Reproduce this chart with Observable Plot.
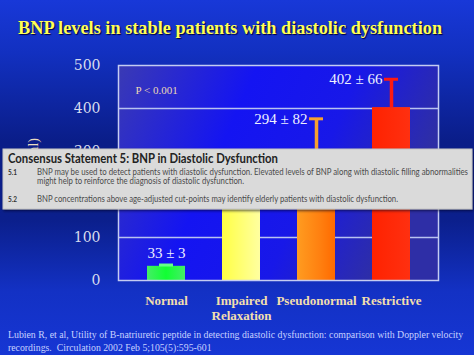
<!DOCTYPE html>
<html>
<head>
<meta charset="utf-8">
<script src="https://cdn.jsdelivr.net/npm/d3@7"></script>
<script src="https://cdn.jsdelivr.net/npm/@observablehq/plot@0.6"></script>
<style>
  html, body { margin: 0; padding: 0; }
  body {
    width: 474px; height: 355px; position: relative; overflow: hidden;
    background: linear-gradient(180deg, #1838d8 0%, #1230c0 15%, #0a1d88 40%, #0b1f8c 62%, #1331c4 82%, #1636d4 100%);
  }
  #title {
    position: absolute; left: 18px; top: 18px; white-space: nowrap;
    font-family: "Liberation Serif", serif; font-weight: bold; font-size: 18.3px;
    color: #ffff55; text-shadow: 1px 1px 1px #000040;
  }
  #chart { position: absolute; left: 0; top: 0; }
  #note { position: absolute; left: 0; top: 0; }
  #cite {
    position: absolute; left: 8px; top: 328px; white-space: nowrap;
    font-family: "Liberation Serif", serif; font-size: 9.8px; line-height: 13px;
    color: #c8d2ff;
  }
</style>
</head>
<body>
<div id="title">BNP levels in stable patients with diastolic dysfunction</div>
<div id="chart"></div>
<svg id="note" width="474" height="355"></svg>
<div id="cite">Lubien R, et al, Utility of B-natriuretic peptide in detecting diastolic dysfunction: comparison with Doppler velocity<br>recordings.&nbsp; Circulation 2002 Feb 5;105(5):595-601</div>
<script>
// ---- data ----
const categories = ["Normal", "Impaired\nRelaxation", "Pseudonormal", "Restrictive"];
const means = [33, 227, 294, 402];
const sems = [3, 31, 82, 66];
const yTicks = [0, 100, 200, 300, 400, 500];
const gridValues = [100, 200, 300, 400];
const pValueText = "P < 0.001";
const yLabel = "(pg/ml)";

const noteTitle = "Consensus Statement 5: BNP in Diastolic Dysfunction";
const noteNums = ["5.1", "5.2"];
const noteLines = [
  "BNP may be used to detect patients with diastolic dysfunction. Elevated levels of BNP along with diastolic filling abnormalities",
  "might help to reinforce the diagnosis of diastolic dysfunction.",
  "BNP concentrations above age-adjusted cut-points may identify elderly patients with diastolic dysfunction."
];

// ---- styles ----
const barFill = {
  "Normal": "url(#gGreen)",
  "Impaired\nRelaxation": "url(#gYellow)",
  "Pseudonormal": "url(#gOrange)",
  "Restrictive": "url(#gRed)"
};
const errStroke = {
  "Normal": "#66ff88",
  "Impaired\nRelaxation": "#ffff66",
  "Pseudonormal": "#f7a030",
  "Restrictive": "#ff1a10"
};

const data = categories.map((c, i) => ({cat: c, mean: means[i], sem: sems[i], label: `${means[i]} ± ${sems[i]}`}));
const upper = d => d.mean + d.sem;

const chart = Plot.plot({
  width: 474, height: 355,
  marginTop: 65, marginBottom: 75, marginLeft: 118, marginRight: 36,
  style: {background: "transparent", overflow: "visible"},
  x: {domain: categories, paddingInner: 0.5, paddingOuter: 0.25, insetLeft: 9, insetRight: 9, axis: null, label: null},
  y: {domain: [0, 500], axis: null, label: null},
  color: {type: "identity"},
  marks: [
    Plot.frame({fill: "url(#plotBg)", stroke: "none"}),
    Plot.ruleY(gridValues, {stroke: "#b8c2f0", strokeWidth: 1.5}),
    Plot.barY(data, {x: "cat", y: "mean", fill: d => barFill[d.cat]}),
    Plot.ruleX(data, {x: "cat", y1: "mean", y2: upper, stroke: d => errStroke[d.cat], strokeWidth: 3.5}),
    Plot.tickY(data, {x: "cat", y: upper, stroke: d => errStroke[d.cat], strokeWidth: 3, insetLeft: 12, insetRight: 12}),
    Plot.text(data.filter(d => d.cat === "Normal"), {x: "cat", y: upper, text: "label", dy: -12, fill: "#eef0ff", fontSize: 15, fontFamily: "Liberation Serif"}),
    Plot.text(data.filter(d => d.cat !== "Normal"), {x: "cat", y: upper, text: "label", textAnchor: "end", dx: -9, fill: "#eef0ff", fontSize: 15, fontFamily: "Liberation Serif"}),
    Plot.text([pValueText], {frameAnchor: "top-left", dx: 17, dy: 21, textAnchor: "start", fill: "#ead8b4", fontSize: 11, fontFamily: "Liberation Serif"}),
    Plot.frame({stroke: "#c4ccf2", strokeWidth: 1.5}),
    Plot.axisY(yTicks, {label: null, tickSize: 0, tickPadding: 18, fontSize: 14, fontFamily: "DejaVu Serif", fill: "#d8dcee", letterSpacing: "3.5px"}),
    Plot.text([yLabel], {frameAnchor: "left", rotate: -90, textAnchor: "end", dx: -85, dy: -35, fill: "#e8dcc0", fontSize: 14, fontFamily: "Liberation Serif"}),
    Plot.axisX({label: null, tickSize: 0, tickPadding: 14, fontSize: 13, fontWeight: "bold", fontFamily: "Liberation Serif", fill: "#f2dfae", lineHeight: 1.15})
  ]
});

const svg = d3.select(chart);
const defs = svg.insert("defs", ":first-child");
function grad(id, stops, x2 = "100%", y2 = "0%") {
  const g = defs.append("linearGradient").attr("id", id).attr("x1", "0%").attr("y1", "0%").attr("x2", x2).attr("y2", y2);
  stops.forEach(([o, c]) => g.append("stop").attr("offset", o).attr("stop-color", c));
}
grad("plotBg", [["0%", "#3a3ab4"], ["40%", "#1414f2"], ["70%", "#1818e8"], ["100%", "#2e2ea6"]], "100%", "30%");
grad("gGreen", [["0%", "#44ee66"], ["50%", "#11ff33"], ["100%", "#44ee66"]]);
grad("gYellow", [["0%", "#ffff44"], ["100%", "#ffffa0"]]);
grad("gOrange", [["0%", "#ff9c20"], ["60%", "#ff8010"], ["100%", "#ff6a00"]]);
grad("gRed", [["0%", "#ff2200"], ["100%", "#ff3010"]]);
document.getElementById("chart").appendChild(chart);

// ---- overlay note box ----
const note = d3.select("#note");
const nd = note.append("defs");
const f = nd.append("filter").attr("id", "sh").attr("x", "-5%").attr("y", "-20%").attr("width", "110%").attr("height", "150%");
f.append("feDropShadow").attr("dx", 1).attr("dy", 1.5).attr("stdDeviation", 1.2).attr("flood-color", "#000020").attr("flood-opacity", 0.6);
note.append("rect").attr("x", 3).attr("y", 149).attr("width", 469).attr("height", 60)
  .attr("fill", "#dadada").attr("stroke", "#c4c4c4").attr("filter", "url(#sh)");
note.append("text").attr("x", 8).attr("y", 163).attr("textLength", 270).attr("lengthAdjust", "spacingAndGlyphs")
  .attr("font-family", "Lato, 'Noto Sans', sans-serif").attr("font-weight", "bold").attr("font-size", 12.5)
  .attr("fill", "#222").text(noteTitle);
const ys = [175, 184, 201.5];
const lens = [431, 207, 361];
noteNums.forEach((n, i) => {
  note.append("text").attr("x", 8).attr("y", i === 0 ? ys[0] : ys[2])
    .attr("font-family", "Lato, sans-serif").attr("font-weight", "bold").attr("font-size", 6.5).attr("fill", "#333").text(n);
});
noteLines.forEach((t, i) => {
  note.append("text").attr("x", 37).attr("y", ys[i]).attr("textLength", lens[i]).attr("lengthAdjust", "spacingAndGlyphs")
    .attr("font-family", "Lato, sans-serif").attr("font-size", 8.5).attr("fill", "#4a4a4a").text(t);
});
</script>
</body>
</html>
